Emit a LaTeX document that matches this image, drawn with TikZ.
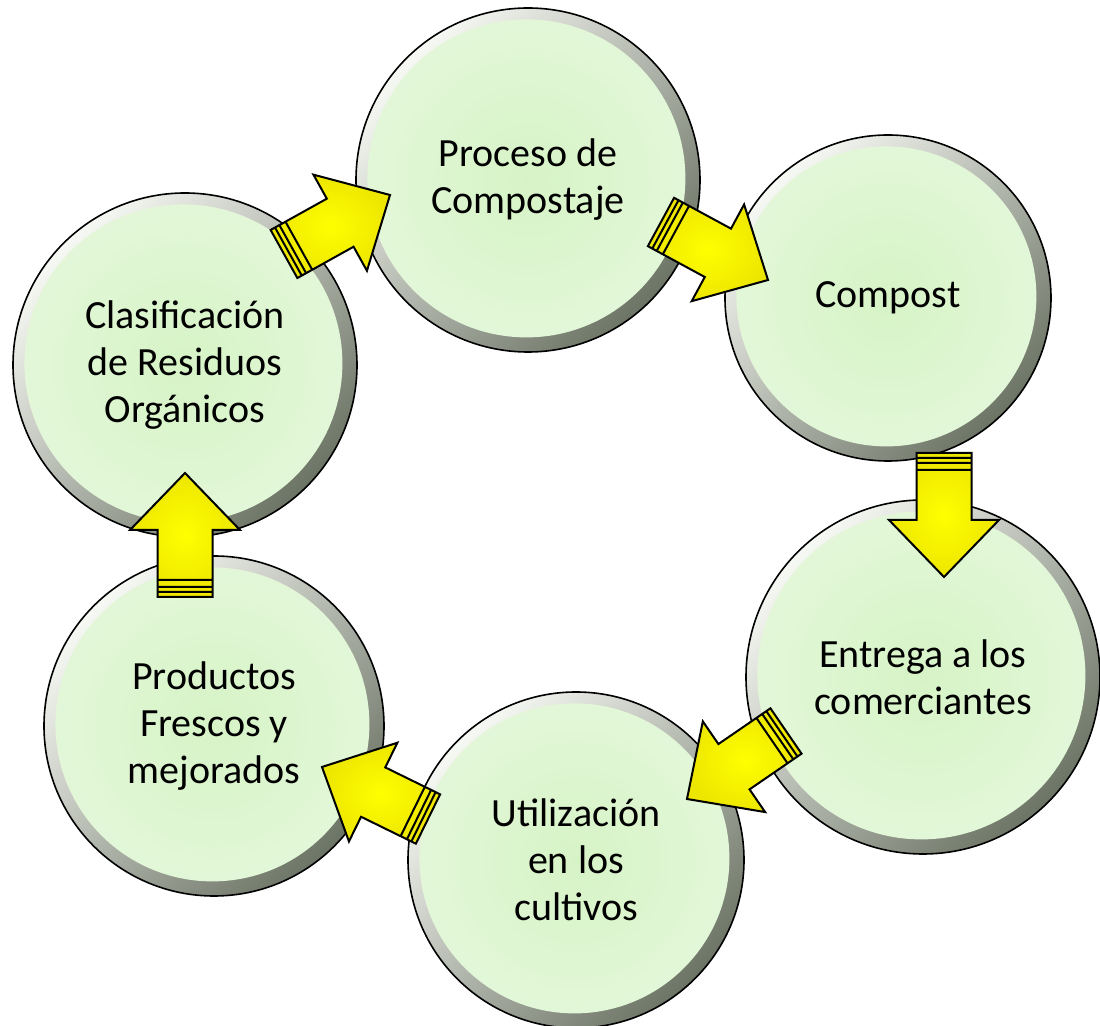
\documentclass[tikz,border=0pt]{standalone}
\usepackage{fontspec}
\setmainfont{Carlito}
\usetikzlibrary{calc}
\definecolor{cpanilloclaro}{HTML}{F7F9F4}
\definecolor{cpanillooscuro}{HTML}{6C7465}
\definecolor{cpdiscocentro}{HTML}{D6F3C6}
\definecolor{cpdiscoborde}{HTML}{F1FCEC}
\definecolor{cpamarillo}{HTML}{FFFF00}
\definecolor{cpamarillooscuro}{HTML}{EDE600}
\pgfdeclareradialshading{cpdisco}{\pgfpoint{0bp}{0bp}}{color(0bp)=(cpdiscocentro); color(30bp)=(cpdiscoborde!60!cpdiscocentro); color(50bp)=(cpdiscoborde)}
\newcommand{\cptexto}{\fontsize{20pt}{23.5pt}\selectfont}
\tikzset{
  cpetapa/.style={circle, draw=black, line width=0.8pt, minimum size=#1, inner sep=0pt,
                  align=center, font=\cptexto, top color=cpanilloclaro, bottom color=cpanillooscuro,
                  shading angle=45,
                  path picture={\shade[shading=cpdisco] let \p1=(path picture bounding box.east),
                    \p2=(path picture bounding box.center) in
                    ([shift={(-0.8pt,0.8pt)}]\p2) circle ({\x1-\x2-6.5pt});}},
  cpflecha/.style={draw=black, line width=1pt, inner color=cpamarillo, outer color=cpamarillooscuro,
                   to path={
                     ($(\tikztostart)!13.75pt!90:(\tikztotarget)$)
                     -- ($($(\tikztotarget)!28.5pt!(\tikztostart)$)!13.75pt!90:(\tikztotarget)$)
                     -- ($($(\tikztotarget)!28.5pt!(\tikztostart)$)!27.5pt!90:(\tikztotarget)$)
                     -- (\tikztotarget)
                     -- ($($(\tikztotarget)!28.5pt!(\tikztostart)$)!27.5pt!-90:(\tikztotarget)$)
                     -- ($($(\tikztotarget)!28.5pt!(\tikztostart)$)!13.75pt!-90:(\tikztotarget)$)
                     -- ($(\tikztostart)!13.75pt!-90:(\tikztotarget)$) -- cycle
                     % rayas de la cola
                     ($($(\tikztostart)!2.5pt!(\tikztotarget)$)!13.75pt!90:(\tikztotarget)$)
                     -- ($($(\tikztostart)!2.5pt!(\tikztotarget)$)!13.75pt!-90:(\tikztotarget)$)
                     ($($(\tikztostart)!5pt!(\tikztotarget)$)!13.75pt!90:(\tikztotarget)$)
                     -- ($($(\tikztostart)!5pt!(\tikztotarget)$)!13.75pt!-90:(\tikztotarget)$)
                     ($($(\tikztostart)!8.5pt!(\tikztotarget)$)!13.75pt!90:(\tikztotarget)$)
                     -- ($($(\tikztostart)!8.5pt!(\tikztotarget)$)!13.75pt!-90:(\tikztotarget)$)
                   }},
}
\begin{document}
\begin{tikzpicture}[x=0.5pt, y=-0.5pt]
  \fill[white] (0,0) rectangle (1100,1026);
  \useasboundingbox (0,0) rectangle (1100,1026);
  % etapas del ciclo
  \node[cpetapa=172pt] (proceso) at (528,180) {Proceso de\\Compostaje};
  \node[cpetapa=163pt] (compost) at (888,298) {Compost};
  \node[cpetapa=177pt] (entrega) at (923,677) {Entrega a los\\comerciantes};
  \node[cpetapa=168pt] (cultivos) at (576,860) {Utilización\\en los\\cultivos};
  \node[cpetapa=170pt] (productos) at (214,726) {Productos\\Frescos y\\mejorados};
  \node[cpetapa=172pt] (clasif) at (185,365) {Clasificación\\de Residuos\\Orgánicos};
  % flechas entre etapas
  \coordinate (f1a) at (284,254); \coordinate (f1b) at (390,195);
  \coordinate (f2a) at (661,222); \coordinate (f2b) at (768,280);
  \coordinate (f3a) at (944,453); \coordinate (f3b) at (944,577);
  \coordinate (f4a) at (786,731); \coordinate (f4b) at (687,799);
  \coordinate (f5a) at (428,819); \coordinate (f5b) at (322,767);
  \coordinate (f6a) at (185,597); \coordinate (f6b) at (185,473);
  \draw[cpflecha] (f1a) to (f1b);
  \draw[cpflecha] (f2a) to (f2b);
  \draw[cpflecha] (f3a) to (f3b);
  \draw[cpflecha] (f4a) to (f4b);
  \draw[cpflecha] (f5a) to (f5b);
  \draw[cpflecha] (f6a) to (f6b);
\end{tikzpicture}
\end{document}
